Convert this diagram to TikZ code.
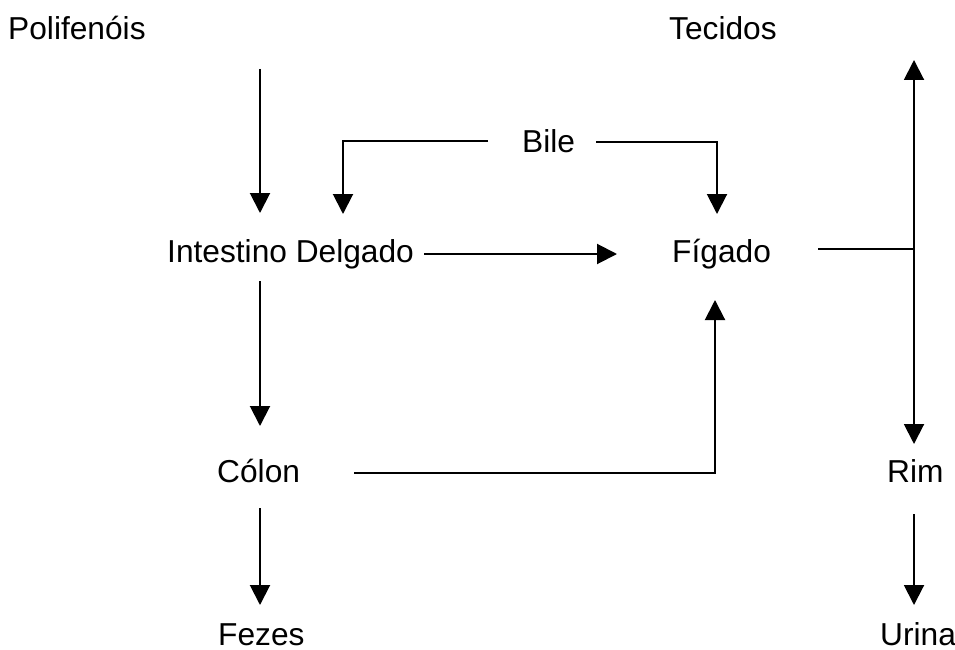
\documentclass[tikz,border=0pt]{standalone}
\usepackage{fontspec}
\setmainfont{Liberation Sans}
\usetikzlibrary{arrows.meta}
\begin{document}
\begin{tikzpicture}[x=1pt,y=-1pt,
  lbl/.style={inner sep=0pt,anchor=base west,font=\fontsize{31.7}{38}\selectfont},
  conn/.style={line width=2pt,-{Triangle[width=20pt,length=20pt]}},
  plain/.style={line width=2pt}]
\useasboundingbox (0,0) rectangle (955,650);
% text nodes
\node[lbl] (pol) at (8,40) {Polifenóis};
\node[lbl] (tec) at (669,40) {Tecidos};
\node[lbl] (bile) at (522,152) {Bile};
\node[lbl] (id) at (167,262) {Intestino Delgado};
\node[lbl] (fig) at (672,262) {Fígado};
\node[lbl] (col) at (217,482) {Cólon};
\node[lbl] (rim) at (887,482) {Rim};
\node[lbl] (fez) at (218,645) {Fezes};
\node[lbl] (uri) at (880,645) {Urina};
% connector end points
\coordinate (p1) at (260,69);  \coordinate (p2) at (260,213);
\coordinate (bl1) at (488,141); \coordinate (bl2) at (343,141); \coordinate (bl3) at (343,214);
\coordinate (br1) at (596,142); \coordinate (br2) at (717,142); \coordinate (br3) at (717,214);
\coordinate (h1) at (424,254); \coordinate (h2) at (617,254);
\coordinate (f1) at (818,249); \coordinate (jn) at (914,249);
\coordinate (up) at (914,60); \coordinate (dn) at (914,444);
\coordinate (i1) at (260,281); \coordinate (i2) at (260,426);
\coordinate (c1) at (354,473); \coordinate (c2) at (715,473); \coordinate (c3) at (715,300);
\coordinate (z1) at (260,508); \coordinate (z2) at (260,605);
\coordinate (r1) at (914,514); \coordinate (r2) at (914,605);
% connectors
\draw[conn] (p1) -- (p2);
\draw[conn] (bl1) -- (bl2) -- (bl3);
\draw[conn] (br1) -- (br2) -- (br3);
\draw[conn] (h1) -- (h2);
\draw[plain] (f1) -- (jn);
\draw[conn] (jn) -- (up);
\draw[conn] (jn) -- (dn);
\draw[conn] (i1) -- (i2);
\draw[conn] (c1) -- (c2) -- (c3);
\draw[conn] (z1) -- (z2);
\draw[conn] (r1) -- (r2);
\end{tikzpicture}
\end{document}
